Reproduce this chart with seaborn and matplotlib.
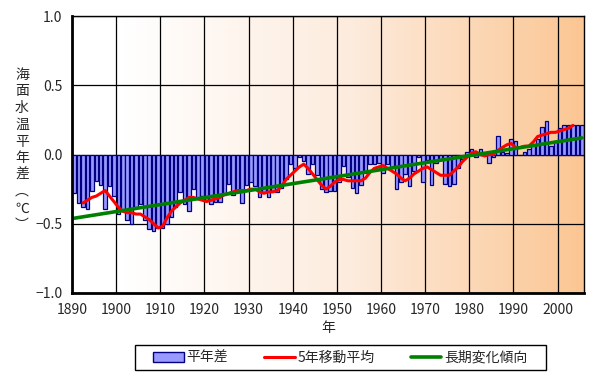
import numpy as np
import matplotlib
matplotlib.use("Agg")
import matplotlib.pyplot as plt
import seaborn as sns
from matplotlib.colors import LinearSegmentedColormap
from matplotlib.patches import Patch, Rectangle
from matplotlib.lines import Line2D

# annual anomaly (degC), 1891-2006
years = list(range(1891, 2007))
anomaly = [
    -0.28, -0.35, -0.38, -0.39, -0.26, -0.19, -0.22, -0.39, -0.23, -0.30,
    -0.43, -0.41, -0.47, -0.50, -0.38, -0.36, -0.47, -0.54, -0.55, -0.53,
    -0.53, -0.50, -0.45, -0.38, -0.27, -0.36, -0.41, -0.25, -0.32, -0.30,
    -0.33, -0.36, -0.34, -0.34, -0.29, -0.21, -0.29, -0.26, -0.35, -0.22,
    -0.20, -0.23, -0.31, -0.27, -0.31, -0.26, -0.27, -0.24, -0.18, -0.07,
    -0.10, -0.02, -0.05, -0.14, -0.07, -0.15, -0.25, -0.27, -0.26, -0.26,
    -0.20, -0.08, -0.16, -0.24, -0.28, -0.22, -0.13, -0.07, -0.07, -0.06,
    -0.13, -0.07, -0.10, -0.25, -0.20, -0.14, -0.23, -0.12, -0.02, -0.20,
    -0.04, -0.22, -0.06, -0.04, -0.21, -0.23, -0.21, -0.10, -0.03, 0.02,
    0.04, -0.02, 0.04, -0.01, -0.06, -0.02, 0.13, 0.02, 0.01, 0.11,
    0.10, 0.00, 0.02, 0.04, 0.07, 0.11, 0.20, 0.24, 0.06, 0.10,
    0.19, 0.21, 0.21, 0.21, 0.21, 0.21,
]

# 5-year running mean, 1893-2004
ma_years = list(range(1893, 2005))
ma_values = [
    -0.35, -0.33, -0.31, -0.30, -0.28, -0.26, -0.30, -0.34, -0.38, -0.41,
    -0.42, -0.42, -0.43, -0.43, -0.45, -0.47, -0.50, -0.53, -0.52, -0.46,
    -0.41, -0.38, -0.35, -0.33, -0.31, -0.31, -0.32, -0.33, -0.34, -0.33,
    -0.32, -0.31, -0.29, -0.28, -0.27, -0.26, -0.26, -0.26, -0.25, -0.25,
    -0.27, -0.28, -0.27, -0.27, -0.26, -0.23, -0.18, -0.15, -0.12, -0.09,
    -0.07, -0.10, -0.14, -0.18, -0.22, -0.25, -0.23, -0.20, -0.18, -0.18,
    -0.19, -0.19, -0.19, -0.19, -0.17, -0.13, -0.10, -0.09, -0.08, -0.10,
    -0.12, -0.14, -0.17, -0.19, -0.17, -0.14, -0.12, -0.10, -0.09, -0.11,
    -0.13, -0.15, -0.15, -0.15, -0.12, -0.09, -0.05, -0.02, 0.01, 0.02,
    0.00, -0.01, 0.00, 0.00, 0.03, 0.05, 0.07, 0.08, 0.05, 0.05,
    0.06, 0.06, 0.09, 0.13, 0.14, 0.15, 0.16, 0.16, 0.17, 0.18,
    0.19, 0.21,
]

# long-term trend (end points)
trend_years = [1891, 2006]
trend_values = [-0.46, 0.12]

labels = ["平年差", "5年移動平均", "長期変化傾向"]
ylabel = "海面水温平年差︵℃︶"

sns.set_style("white")
plt.rcParams["font.family"] = ["Noto Sans CJK JP", "DejaVu Sans"]

fig = plt.figure(figsize=(6.12, 3.81), dpi=100)
ax = fig.add_axes([72 / 612, 1 - 293 / 381, 512 / 612, 277 / 381])

# background gradient white -> orange
cmap = LinearSegmentedColormap.from_list(
    "bg", [(0, "#FFFFFF"), (0.1, "#FFFFFF"), (0.55, "#FDEBDD"), (1, "#FBC693")])
grad = np.linspace(0, 1, 256).reshape(1, -1)
ax.imshow(grad, extent=[1890, 2006, -1, 1], aspect="auto", cmap=cmap, zorder=0)

# bars sit in the slot [year-1, year]
bar_x = [y - 0.5 for y in years]
sns.barplot(x=bar_x, y=anomaly, native_scale=True, width=0.8,
            color="#9999FF", edgecolor="#000080", linewidth=0.9,
            saturation=1, ax=ax, zorder=3)

sns.lineplot(x=[y - 0.5 for y in ma_years], y=ma_values, color="#FF0000",
             linewidth=2.2, ax=ax, zorder=4)
sns.lineplot(x=[y - 0.5 for y in trend_years], y=trend_values, color="#008000",
             linewidth=2.6, ax=ax, zorder=5)

ax.set_xlim(1890, 2006)
ax.set_ylim(-1, 1)
ax.set_xticks(range(1890, 2001, 10))
ax.set_xticklabels([str(t) for t in range(1890, 2001, 10)], fontsize=10)
ax.set_yticks([-1.0, -0.5, 0.0, 0.5, 1.0])
ax.set_yticklabels(["−1.0", "−0.5", "0.0", "0.5", "1.0"], fontsize=10)
ax.grid(True, color="black", linewidth=0.9)
for line in ax.get_xgridlines() + ax.get_ygridlines():
    line.set_zorder(1)
ax.tick_params(axis="both", direction="out", length=4, width=1, color="black", pad=3)
for s in ax.spines.values():
    s.set_color("black")
    s.set_linewidth(1.0)
    s.set_zorder(6)
ax.spines["left"].set_linewidth(2)
ax.spines["bottom"].set_linewidth(2)

ax.set_xlabel("年", fontsize=10, labelpad=3)
ax.set_ylabel("")
fig.text(22 / 612, 1 - 150 / 381, "\n".join(ylabel), fontsize=10,
         ha="center", va="center", linespacing=1.25)

# legend: frameless entries inside a hand-placed box
fig.patches.append(Rectangle((135 / 612, 1 - 370 / 381), 411 / 612, 25 / 381,
                             transform=fig.transFigure, facecolor="white",
                             edgecolor="black", linewidth=1, zorder=0))
handles = [
    Patch(facecolor="#9999FF", edgecolor="#000080", linewidth=1),
    Line2D([0], [0], color="#FF0000", linewidth=2.2),
    Line2D([0], [0], color="#008000", linewidth=2.6),
]
fig.legend(handles, labels, loc="center left", bbox_to_anchor=(153 / 612, 1 - 357.5 / 381),
           ncol=3, frameon=False, fontsize=10, columnspacing=2.6,
           handlelength=2.2, handletextpad=0.2, borderpad=0, borderaxespad=0)

fig.savefig("out.png", dpi=100)
